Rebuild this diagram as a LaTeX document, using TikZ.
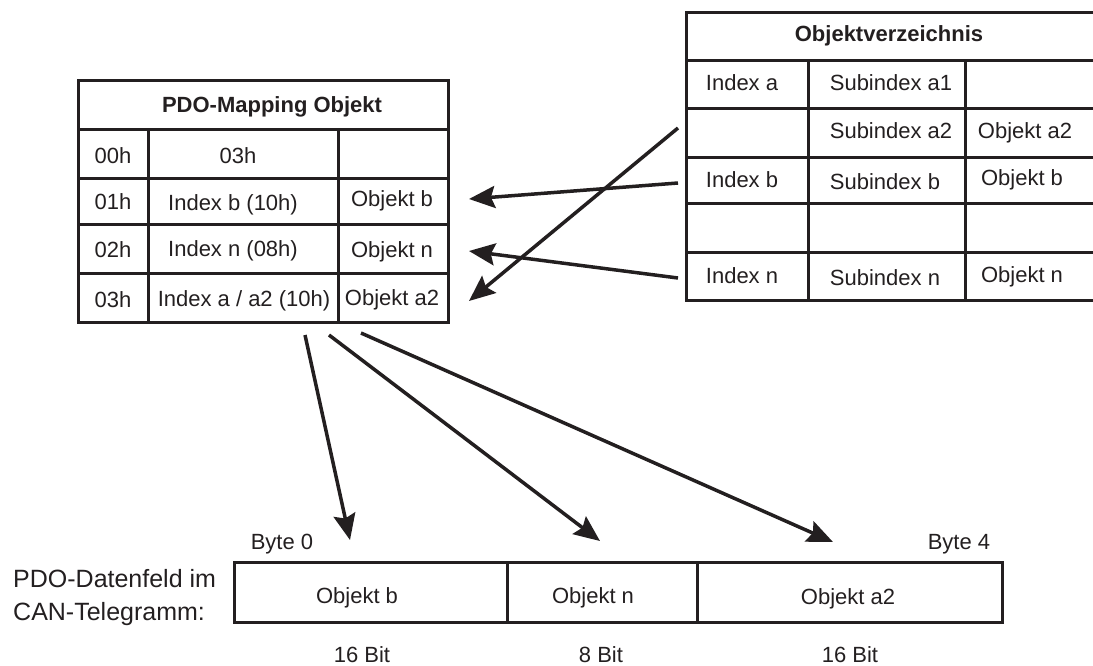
\documentclass[tikz,border=0pt]{standalone}
\usepackage{fontspec}
\setmainfont{Liberation Sans}
\usetikzlibrary{arrows.meta}
\definecolor{ink}{RGB}{35,31,32}
\begin{document}
\begin{tikzpicture}[x=1pt,y=-1pt,
  grid/.style={draw=ink,line width=3pt},
  txt/.style={inner sep=0pt,anchor=base,text=ink,font=\fontsize{22}{26}\selectfont},
  ttl/.style={inner sep=0pt,anchor=base,text=ink,font=\fontsize{22}{26}\selectfont\bfseries},
  biglbl/.style={inner sep=0pt,anchor=base west,text=ink,font=\fontsize{25}{33}\selectfont,align=left},
  arr/.style={draw=ink,line width=3.5pt,-{Stealth[length=26pt,width=22pt,inset=4pt]}}]
\useasboundingbox (0,0) rectangle (1093,665);

% ---------- PDO-Mapping Objekt table ----------
\draw[grid] (78,80) rectangle (448,322);
\foreach \yy in {129,178,224,273} \draw[grid] (78,\yy) -- (448,\yy);
\foreach \xx in {148,338} \draw[grid] (\xx,129) -- (\xx,322);
\node[ttl] (pt) at (272,112) {PDO-Mapping Objekt};
\node[txt] (p00) at (113,163) {00h};
\node[txt] (p00v) at (238,163) {03h};
\node[txt] (p01) at (113,209) {01h};
\node[txt] (p01v) at (233,210) {Index b (10h)};
\node[txt] (p01o) at (392,206) {Objekt b};
\node[txt] (p02) at (113,257) {02h};
\node[txt] (p02v) at (233,256) {Index n (08h)};
\node[txt] (p02o) at (392,257) {Objekt n};
\node[txt] (p03) at (113,307) {03h};
\node[txt] (p03v) at (244,306) {Index a / a2 (10h)};
\node[txt] (p03o) at (392,305) {Objekt a2};

% ---------- Objektverzeichnis table ----------
\draw[grid] (1093,12) -- (686,12) -- (686,300) -- (1093,300);
\foreach \yy in {60,108,157,203,252} \draw[grid] (686,\yy) -- (1093,\yy);
\foreach \xx in {808,965} \draw[grid] (\xx,60) -- (\xx,300);
\node[ttl] (ot) at (889,41) {Objektverzeichnis};
\node[txt] (oia) at (742,90) {Index a};
\node[txt] (osa1) at (891,90) {Subindex a1};
\node[txt] (osa2) at (891,138) {Subindex a2};
\node[txt] (ooa2) at (1025,138) {Objekt a2};
\node[txt] (oib) at (742,187) {Index b};
\node[txt] (osb) at (885,189) {Subindex b};
\node[txt] (oob) at (1022,185) {Objekt b};
\node[txt] (oin) at (742,283) {Index n};
\node[txt] (osn) at (885,285) {Subindex n};
\node[txt] (oon) at (1022,282) {Objekt n};

% ---------- PDO data field ----------
\draw[grid] (234,562) rectangle (1002,622);
\foreach \xx in {507,697} \draw[grid] (\xx,562) -- (\xx,622);
\node[biglbl] (dl) at (13,620) {PDO-Datenfeld im\\CAN-Telegramm:};
\node[txt] (b0) at (282,549) {Byte 0};
\node[txt] (b4) at (959,549) {Byte 4};
\node[txt] (db) at (357,603) {Objekt b};
\node[txt] (dn) at (593,603) {Objekt n};
\node[txt] (da2) at (848,604) {Objekt a2};
\node[txt] (sb) at (362,662) {16 Bit};
\node[txt] (sn) at (601,662) {8 Bit};
\node[txt] (sa2) at (850,662) {16 Bit};

% ---------- arrow end points ----------
\coordinate (ra2) at (678,128);
\coordinate (rb) at (678,183);
\coordinate (rn) at (678,278);
\coordinate (la2) at (469,301);
\coordinate (lb) at (469,199);
\coordinate (ln) at (469,251);
\coordinate (s1) at (305,335);
\coordinate (s2) at (329,335);
\coordinate (s3) at (361,333);
\coordinate (e1) at (350,540);
\coordinate (e2) at (600,541);
\coordinate (e3) at (833,542);

\draw[arr] (ra2) -- (la2);
\draw[arr] (rb) -- (lb);
\draw[arr] (rn) -- (ln);
\draw[arr] (s1) -- (e1);
\draw[arr] (s2) -- (e2);
\draw[arr] (s3) -- (e3);
\end{tikzpicture}
\end{document}
